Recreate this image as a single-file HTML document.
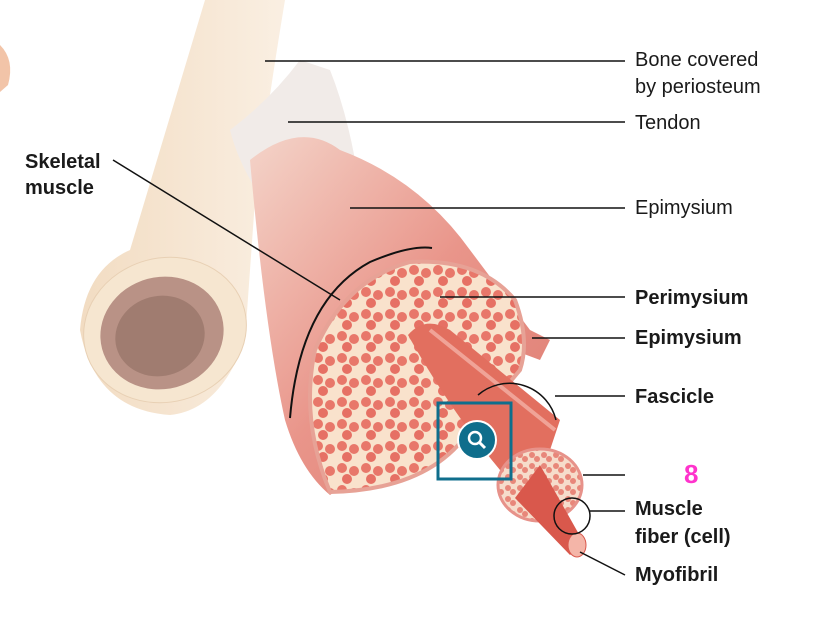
<!DOCTYPE html>
<html><head><style>
html,body{margin:0;padding:0;background:#fff;}
svg{display:block;}
text{font-family:"Liberation Sans",sans-serif;font-size:20px;fill:#1a1a1a;}
.b{font-weight:bold;}
</style></head><body>
<svg width="832" height="624" viewBox="0 0 832 624" xmlns="http://www.w3.org/2000/svg">
<defs>
<pattern id="dots" width="24" height="22" patternUnits="userSpaceOnUse">
<rect width="24" height="22" fill="#f9e2cc"/>
<circle cx="6" cy="6" r="5" fill="#e8776a"/>
<circle cx="18" cy="9" r="5" fill="#e8776a"/>
<circle cx="11" cy="17" r="5" fill="#e67064"/>
</pattern>
<pattern id="sdots" width="12" height="11" patternUnits="userSpaceOnUse">
<rect width="12" height="11" fill="#f6dccb"/>
<circle cx="4" cy="4" r="3" fill="#e8877a"/>
<circle cx="9" cy="8" r="3" fill="#e8877a"/>
</pattern>
<linearGradient id="mus" x1="0" y1="0" x2="1" y2="1">
<stop offset="0" stop-color="#f4d4c9"/><stop offset="0.5" stop-color="#e9958a"/><stop offset="1" stop-color="#de7c72"/>
</linearGradient>
<linearGradient id="bone" x1="0" y1="0" x2="1" y2="0">
<stop offset="0" stop-color="#f2dcc2"/><stop offset="1" stop-color="#faefe2"/>
</linearGradient>
</defs>
<path d="M0,45 Q15,60 8,85 L0,92Z" fill="#f2c4a8"/>
<path d="M205,0 L285,0 Q270,90 255,200 L245,340 Q220,410 170,415 Q95,410 80,330 Q85,270 130,250 Q160,150 205,0Z" fill="url(#bone)"/>
<ellipse cx="165" cy="330" rx="82" ry="72" transform="rotate(-15 165 330)" fill="#f6e6d0" stroke="#e8d0b4"/>
<ellipse cx="162" cy="333" rx="62" ry="56" transform="rotate(-15 162 333)" fill="#b99286"/>
<ellipse cx="160" cy="336" rx="45" ry="40" transform="rotate(-15 160 336)" fill="#a07c70"/>
<path d="M230,130 Q270,100 300,60 L330,70 Q350,120 360,190 L270,210 Q240,170 230,130Z" fill="#f1ebe8"/>
<path d="M250,160 Q300,120 340,150 Q420,180 470,250 L530,330 L550,340 L540,360 L460,330 L380,460 L330,495 Q300,470 285,420 Q265,330 250,160Z" fill="url(#mus)"/>
<path d="M330,492 Q300,420 315,350 Q345,280 410,262 Q480,258 515,300 Q530,340 520,370 L470,430 Q430,490 330,492Z" fill="url(#dots)" stroke="#e7a296" stroke-width="4"/>
<path d="M408,335 Q425,315 450,330 L560,420 L545,465 L500,470 Q450,410 408,335Z" fill="#e26f5f"/>
<path d="M430,330 L555,430" stroke="#f0a397" stroke-width="4"/>
<ellipse cx="540" cy="485" rx="42" ry="36" fill="url(#sdots)" stroke="#e7928a" stroke-width="3"/>
<path d="M515,498 L540,465 L585,545 L570,555Z" fill="#d9584c"/>
<ellipse cx="577" cy="545" rx="9" ry="12" fill="#f4b5a8" stroke="#d9584c"/>
<path d="M290,418 Q300,300 370,262 Q410,245 432,248" fill="none" stroke="#111" stroke-width="2"/>
<path d="M478,395 A48,48 0 0 1 556,420" fill="none" stroke="#111" stroke-width="1.5"/>
<circle cx="572" cy="516" r="18" fill="none" stroke="#111" stroke-width="1.5"/>
<rect x="438" y="403" width="73" height="76" fill="none" stroke="#0f6e8c" stroke-width="3"/>
<circle cx="477" cy="440" r="19" fill="#0f6e8c" stroke="#fff" stroke-width="2"/>
<circle cx="475" cy="438" r="6" fill="none" stroke="#fff" stroke-width="2.5"/>
<line x1="479" y1="442" x2="485" y2="448" stroke="#fff" stroke-width="3"/>
<g stroke="#111" stroke-width="1.5">
<line x1="265" y1="61" x2="625" y2="61"/>
<line x1="288" y1="122" x2="625" y2="122"/>
<line x1="350" y1="208" x2="625" y2="208"/>
<line x1="440" y1="297" x2="625" y2="297"/>
<line x1="532" y1="338" x2="625" y2="338"/>
<line x1="555" y1="396" x2="625" y2="396"/>
<line x1="583" y1="475" x2="625" y2="475"/>
<line x1="590" y1="511" x2="625" y2="511"/>
<line x1="580" y1="552" x2="625" y2="575"/>
<line x1="113" y1="160" x2="340" y2="300"/>
</g>
<text x="635" y="66">Bone covered</text>
<text x="635" y="93">by periosteum</text>
<text x="635" y="129">Tendon</text>
<text x="635" y="214">Epimysium</text>
<text x="635" y="304" class="b">Perimysium</text>
<text x="635" y="344" class="b">Epimysium</text>
<text x="635" y="403" class="b">Fascicle</text>
<text x="684" y="483" class="b" style="fill:#ff33cc;font-size:26px">8</text>
<text x="635" y="515" class="b">Muscle</text>
<text x="635" y="543" class="b">fiber (cell)</text>
<text x="635" y="581" class="b">Myofibril</text>
<text x="25" y="168" class="b">Skeletal</text>
<text x="25" y="194" class="b">muscle</text>
</svg>
</body></html>
